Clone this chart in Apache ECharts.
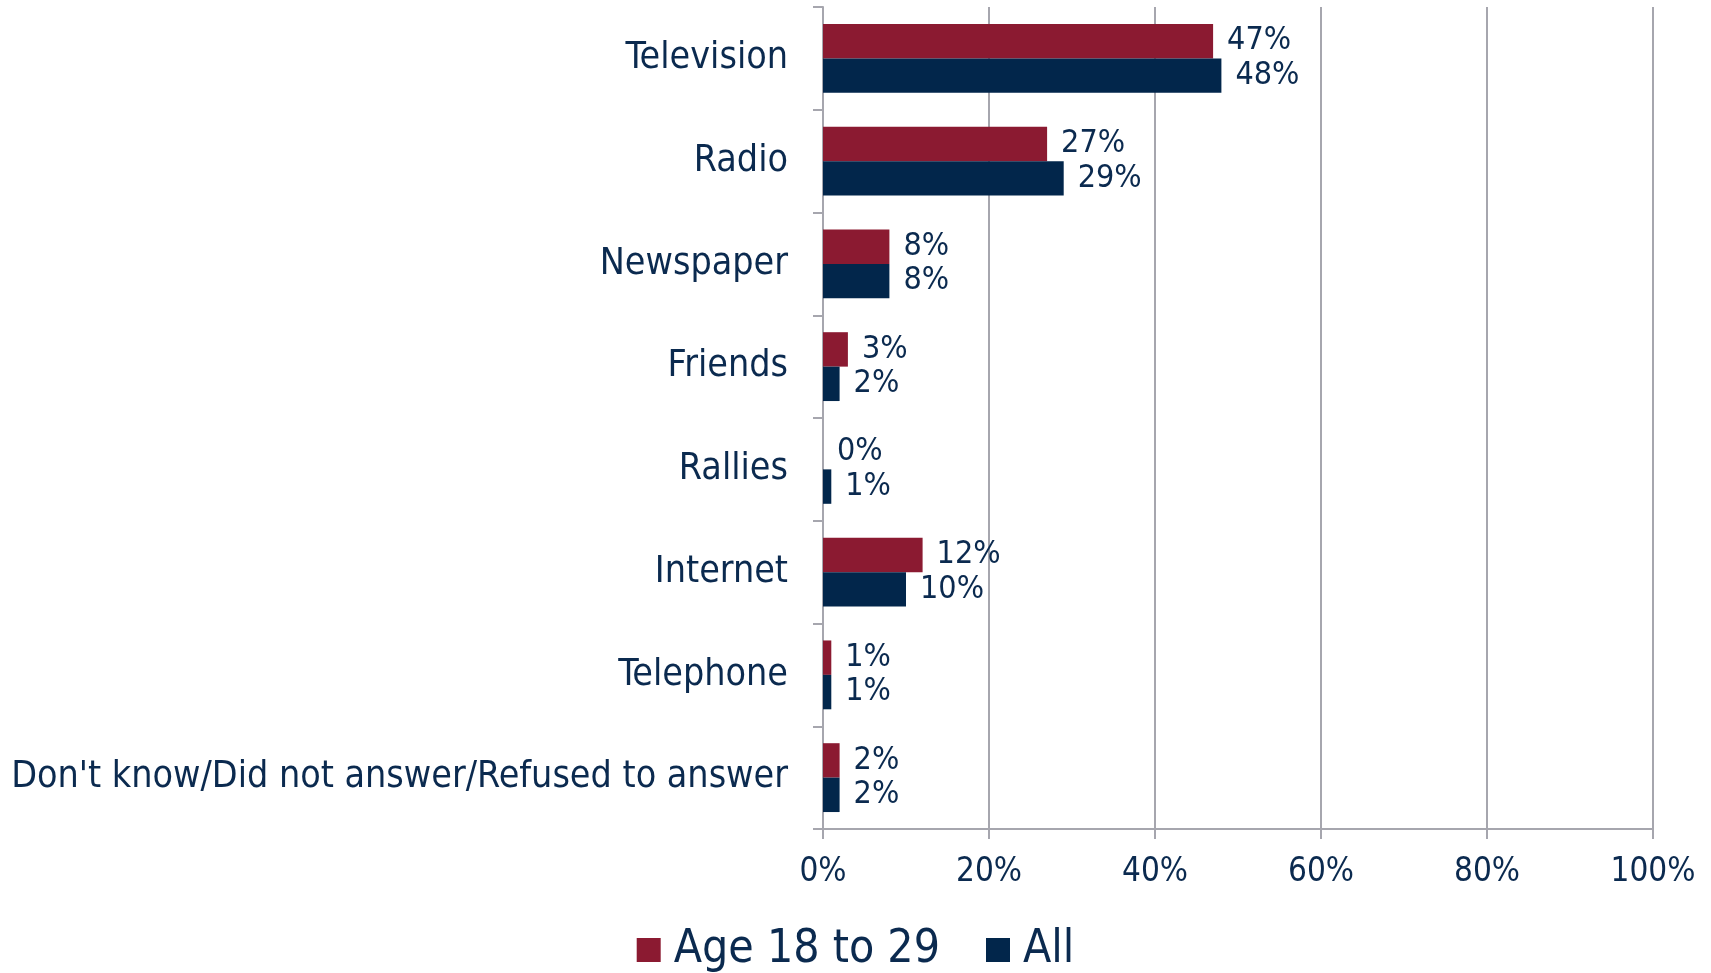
<!DOCTYPE html>
<html><head><meta charset="utf-8">
<script src="https://cdn.jsdelivr.net/npm/echarts@6/dist/echarts.min.js"></script>
<style>html,body{margin:0;padding:0;background:#fff}#c{width:1711px;height:973px}</style>
</head><body><div id="c"></div>
<script>
var categories = ["Television","Radio","Newspaper","Friends","Rallies","Internet","Telephone","Don't know/Did not answer/Refused to answer"];
var age1829 = [47,27,8,3,0,12,1,2];
var all = [48,29,8,2,1,10,1,2];
var xTicks = [0,20,40,60,80,100];
var FONT = "DejaVu Sans Condensed";
var NAVY = "#0b2a4f";
var chart = echarts.init(document.getElementById('c'));
var lbl = {show:true, position:'right', distance:14, formatter:'{c}%', color:NAVY, fontFamily:FONT, fontSize:32};
chart.setOption({
  animation:false,
  textStyle:{fontFamily:FONT},
  grid:{left:823, right:58, top:7, bottom:144},
  legend:{top:922, left:'center', itemWidth:24, itemHeight:24, itemGap:46, icon:'rect',
    textStyle:{color:NAVY, fontFamily:FONT, fontSize:46, padding:[0,0,0,8]},
    data:['Age 18 to 29','All']},
  xAxis:{type:'value', min:0, max:100, interval:20,
    axisLine:{show:true, lineStyle:{color:'#a6a6ae', width:2}},
    axisTick:{show:true, length:10, lineStyle:{color:'#a6a6ae', width:2}},
    splitLine:{show:true, lineStyle:{color:'#a6a6ae', width:2}},
    axisLabel:{formatter:'{value}%', color:NAVY, fontFamily:FONT, fontSize:33, margin:27}},
  yAxis:{type:'category', data:categories, inverse:true,
    axisLine:{show:true, lineStyle:{color:'#a6a6ae', width:2}},
    axisTick:{show:true, length:10, lineStyle:{color:'#a6a6ae', width:2}},
    axisLabel:{color:NAVY, fontFamily:FONT, fontSize:37.3, margin:35}},
  series:[
    {name:'Age 18 to 29', type:'bar', data:age1829, barGap:'0%', barCategoryGap:'33%',
     itemStyle:{color:'#8b1a31'}, label:lbl},
    {name:'All', type:'bar', data:all, barGap:'0%', barCategoryGap:'33%',
     itemStyle:{color:'#02264b'}, label:lbl}
  ]
});
</script></body></html>
